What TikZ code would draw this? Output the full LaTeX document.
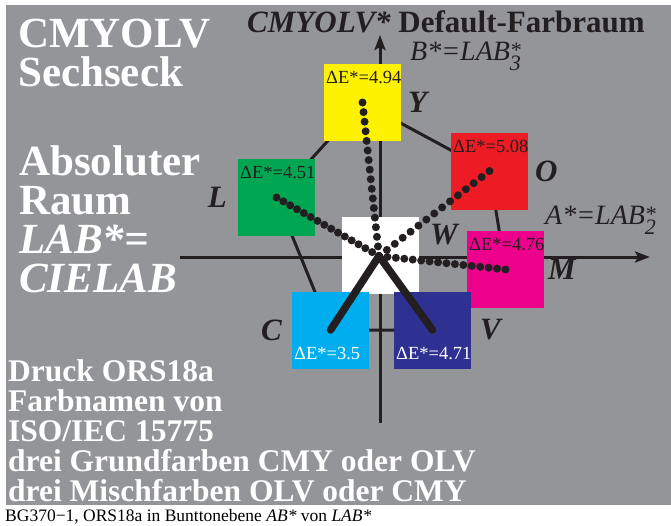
\documentclass[tikz,border=0pt]{standalone}
\usepackage{fontspec}
\setmainfont{Liberation Serif}
\usetikzlibrary{arrows.meta,positioning,calc}

\definecolor{bggray}{RGB}{147,149,152}
\definecolor{ink}{RGB}{35,31,32}
\definecolor{cY}{RGB}{255,242,0}
\definecolor{cO}{RGB}{237,28,36}
\definecolor{cL}{RGB}{0,166,81}
\definecolor{cM}{RGB}{236,0,140}
\definecolor{cC}{RGB}{0,174,239}
\definecolor{cV}{RGB}{46,49,146}

% row of dots from #1 to #2, #3 steps
\newcommand{\dotray}[3]{%
  \foreach \k in {0,...,#3}
    \fill[ink] ($(#1)!\k/#3!(#2)$) circle (4pt);}

\begin{document}
\begin{tikzpicture}[x=1pt, y=-1pt,
    box/.style={minimum size=77pt, inner sep=0pt, outer sep=0pt},
    delta/.style={font=\fontsize{18.5}{18.5}\selectfont, inner sep=0pt, text=ink},
    lbl/.style={font=\bfseries\itshape\fontsize{31}{31}\selectfont, inner sep=0pt, text=ink},
    axlbl/.style={font=\itshape\fontsize{28}{28}\selectfont, inner sep=0pt, text=ink, anchor=base west},
    edge/.style={ink, line width=3pt},
    axis/.style={ink, line width=3pt, -{Stealth[length=15pt, width=11pt, inset=3pt]}},
    ray/.style={ink, line width=7.5pt, line cap=round},
    side/.style={font=\bfseries\fontsize{43}{43}\selectfont, text=white, inner sep=0pt, anchor=base west},
    note/.style={font=\bfseries\fontsize{31.5}{31.5}\selectfont, text=white, inner sep=0pt, anchor=base west}
  ]
  \useasboundingbox (0,0) rectangle (671,525);
  \fill[bggray] (6,5) rectangle (671,505);

  % hexagon corners and axes
  \coordinate (hY) at (362.5,102.5);
  \coordinate (hO) at (489.5,171);
  \coordinate (hM) at (505.5,269.5);
  \coordinate (hV) at (432.5,330);
  \coordinate (hC) at (330.5,330);
  \coordinate (hL) at (276.5,197.5);
  \coordinate (mid) at (379,256);
  \coordinate (xbeg) at (180,257);
  \coordinate (xend) at (650,257);
  \coordinate (ybeg) at (380,423);
  \coordinate (yend) at (380,35);
  \draw[axis] (xbeg) -- (xend);
  \draw[axis] (ybeg) -- (yend);
  \draw[edge] (hY) -- (hO) -- (hM) -- (hV) -- (hC) -- (hL) -- cycle;

  % colour patches
  \node[box, fill=white] (wbox) at (380.5,255) {};
  \node[box, fill=cY] (ybox) at (hY) {};
  \node[box, fill=cO] (obox) at (hO) {};
  \node[box, fill=cL] (lbox) at (hL) {};
  \node[box, fill=cM] (mbox) at (hM) {};
  \node[box, fill=cC] (cbox) at (hC) {};
  \node[box, fill=cV] (vbox) at (hV) {};

  \node[delta, below right=7pt and 2pt of ybox.north west] (dY) {ΔE*=4.94};
  \node[delta, below right=7pt and 2pt of obox.north west] (dO) {ΔE*=5.08};
  \node[delta, below right=7pt and 2pt of lbox.north west] (dL) {ΔE*=4.51};
  \node[delta, below right=7pt and 2pt of mbox.north west] (dM) {ΔE*=4.76};
  \node[delta, text=white, above right=9pt and 2pt of cbox.south west] (dC) {ΔE*=3.5};
  \node[delta, text=white, above right=9pt and 2pt of vbox.south west] (dV) {ΔE*=4.71};

  % rays from W
  \dotray{mid}{ybox.center}{16}
  \dotray{mid}{obox.center}{14}
  \dotray{mid}{lbox.center}{15}
  \dotray{mid}{mbox.center}{15}
  \draw[ray] (mid) -- (cbox.center);
  \draw[ray] (mid) -- (vbox.center);

  \node[lbl, right=7pt of ybox] (nY) {Y};
  \node[lbl, right=7pt of obox] (nO) {O};
  \node[lbl, left=11pt of lbox] (nL) {L};
  \node[lbl, right=4pt of mbox] (nM) {M};
  \node[lbl, left=10pt of cbox] (nC) {C};
  \node[lbl, right=9pt of vbox] (nV) {V};
  \node[lbl, right=11pt of wbox, yshift=20pt] (nW) {W};

  % axis names and title
  \node[axlbl] (bax) at (410,60) {B*=LAB\rlap{\raisebox{3pt}{\fontsize{22}{22}\selectfont*}}\raisebox{-10pt}{\fontsize{22}{22}\selectfont 3}};
  \node[axlbl] (aax) at (545,224) {A*=LAB\rlap{\raisebox{3pt}{\fontsize{22}{22}\selectfont*}}\raisebox{-10pt}{\fontsize{22}{22}\selectfont 2}};
  \node[anchor=base west, inner sep=0pt, text=ink, font=\bfseries\fontsize{31}{31}\selectfont] (title) at (247,32) {{\itshape CMYOLV*} Default-Farbraum};

  % white texts left
  \node[side] (h1) at (18,47) {CMYOLV};
  \node[side] (h2) at (18,86) {Sechseck};
  \foreach \t [count=\i] in {Absoluter, Raum, {\itshape LAB*=}, {\itshape CIELAB}}
    \node[side] (r\i) at (19,136+39*\i) {\t};
  \foreach \t [count=\i] in {Druck ORS18a, Farbnamen von, ISO/IEC 15775, drei Grundfarben CMY oder OLV, drei Mischfarben OLV oder CMY}
    \node[note] (n\i) at (8,351+30*\i) {\t};

  \node[anchor=base west, inner sep=0pt, font=\fontsize{17.5}{17.5}\selectfont] (cap) at (5,521) {BG370−1, ORS18a in Bunttonebene \textit{AB*} von \textit{LAB*}};
\end{tikzpicture}
\end{document}
